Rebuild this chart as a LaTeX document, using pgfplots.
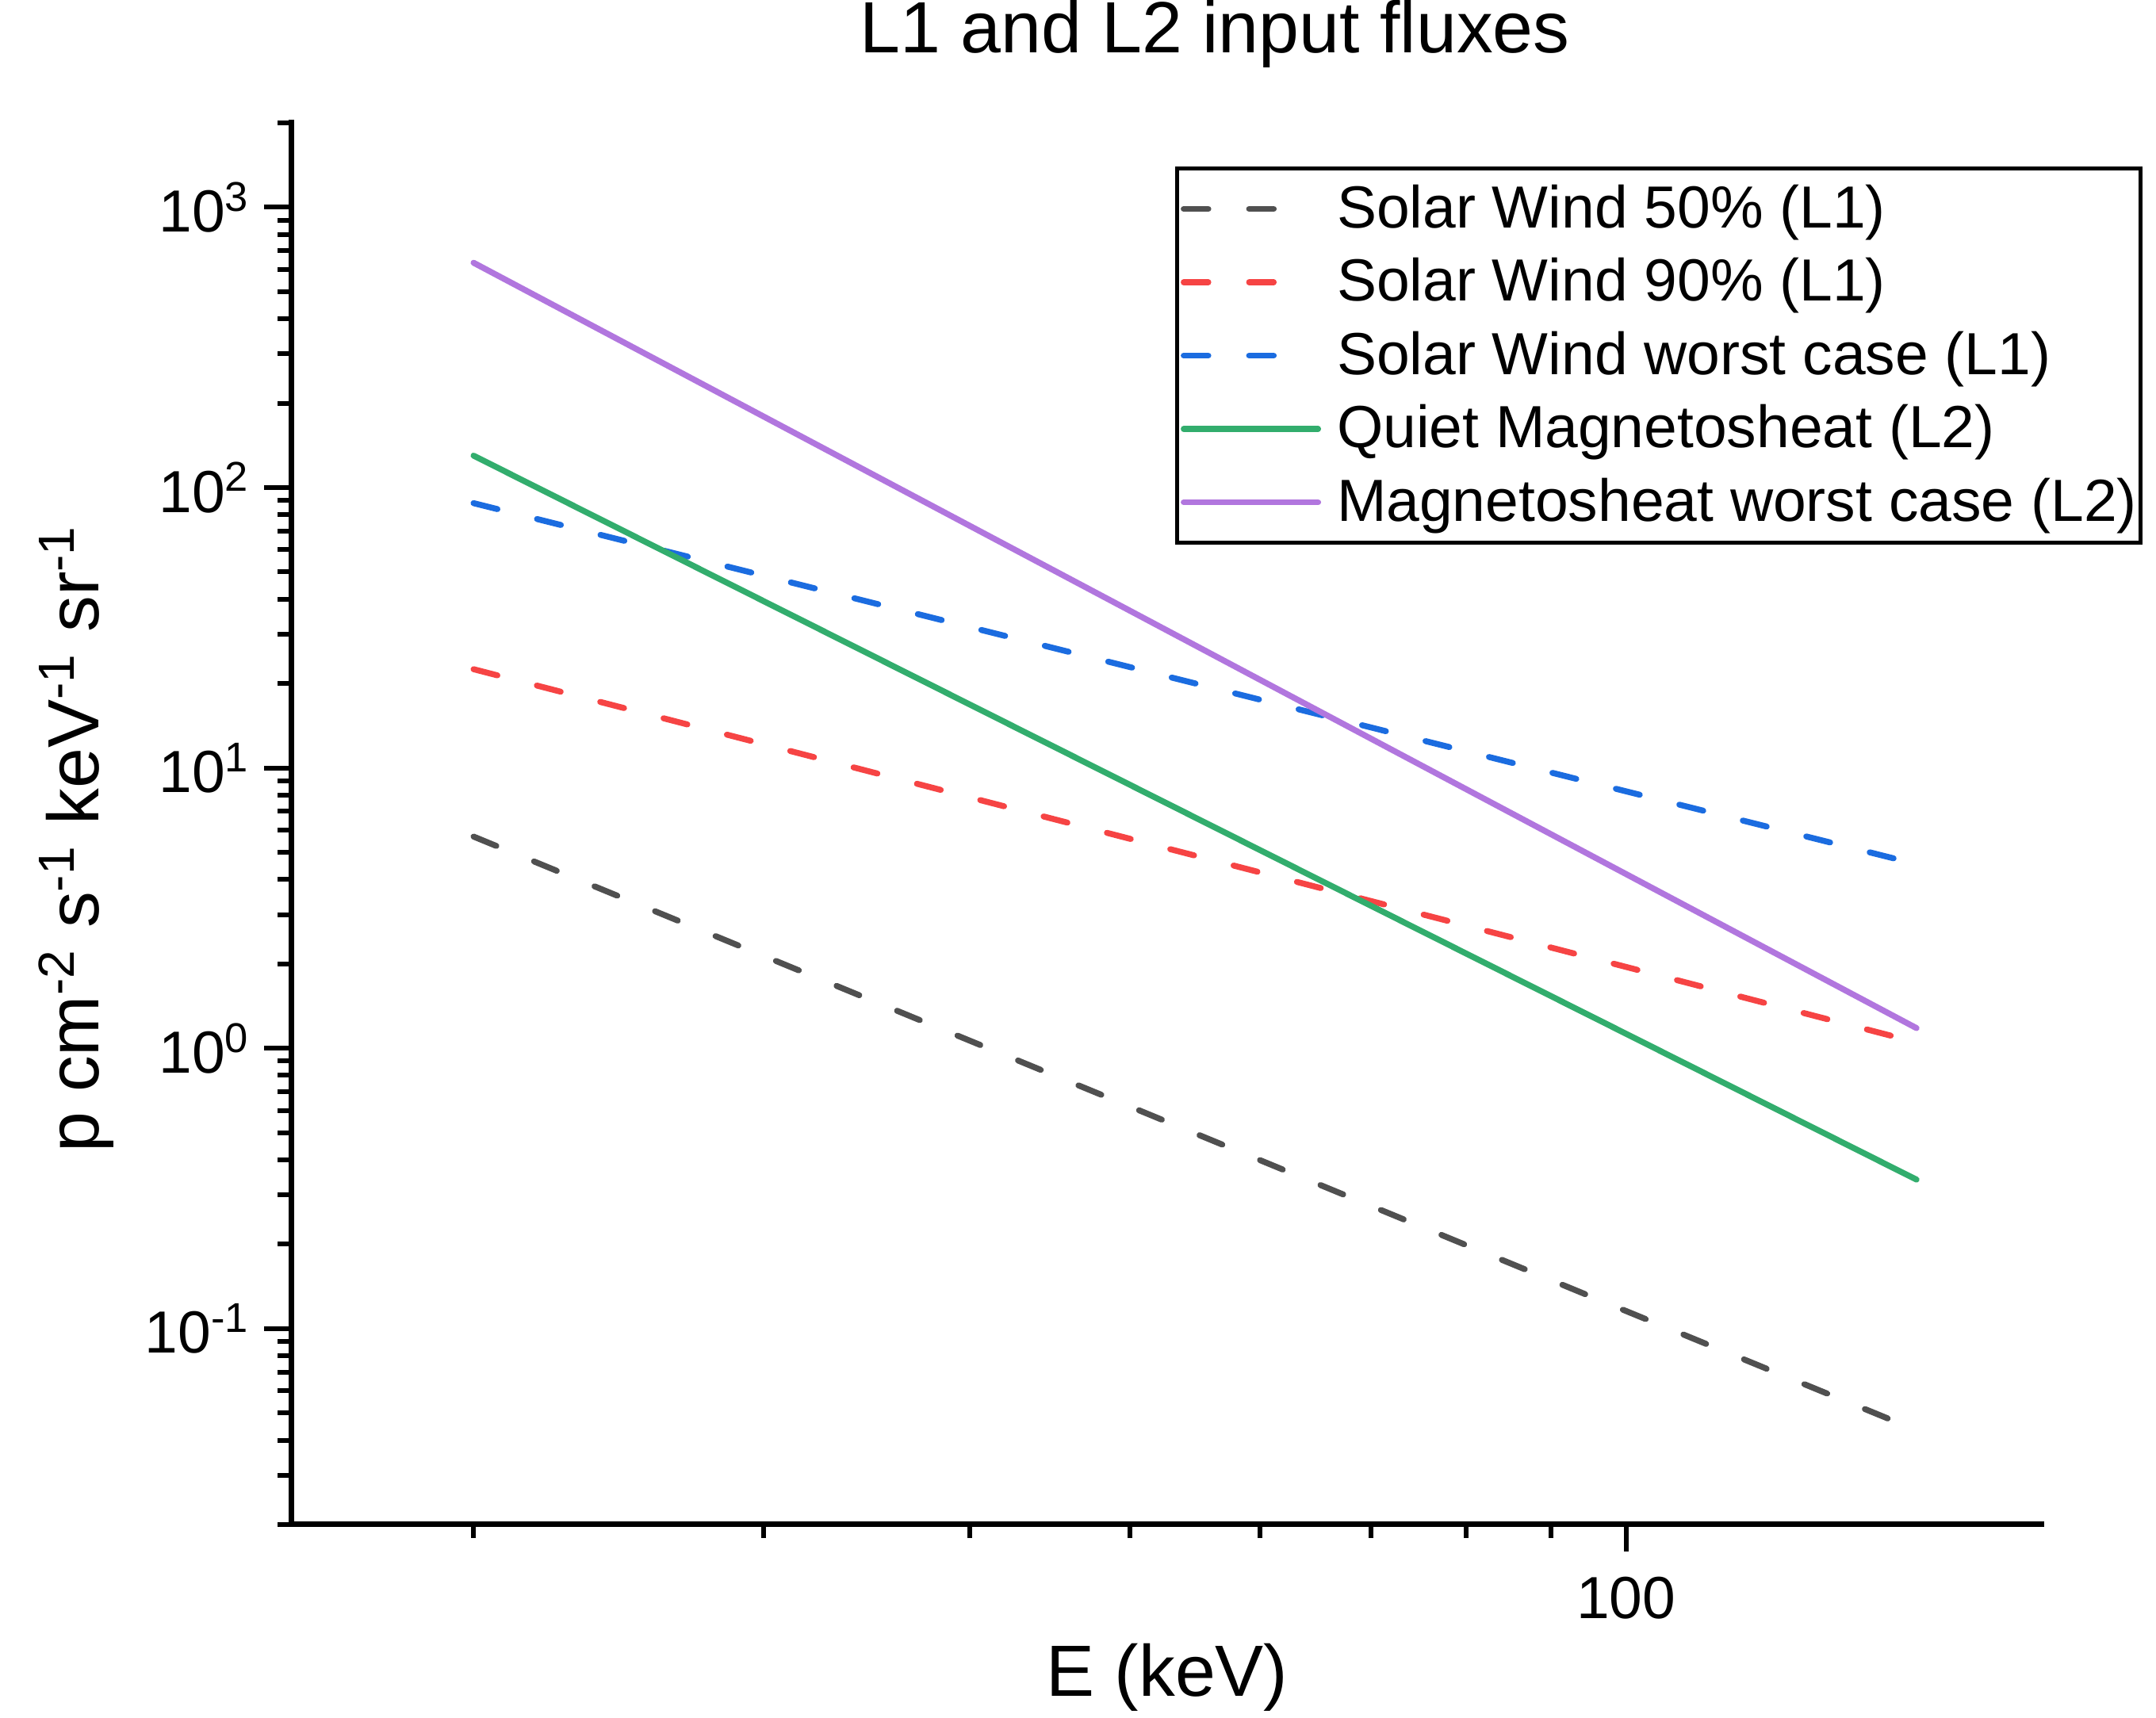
\documentclass[border=0pt]{standalone}
\usepackage{fontspec}
\setmainfont{Liberation Sans}
\usepackage{pgfplots}
\pgfplotsset{compat=1.18}
\definecolor{cgray}{HTML}{505050}
\definecolor{cred}{HTML}{F64444}
\definecolor{cblue}{HTML}{1B6CE0}
\definecolor{cgreen}{HTML}{32AD6D}
\definecolor{cpurple}{HTML}{B176DE}
\pgfplotsset{
  dashleg/.style={legend image code/.code={\draw[##1, line cap=round] (0.7pt,0pt) -- (23.4pt,0pt);}},
  solidleg/.style={legend image code/.code={\draw[##1, line cap=round] (0.7pt,0pt) -- (34.6pt,0pt);}},
}
\begin{document}
\begin{tikzpicture}
\useasboundingbox (-73.4pt,-48.8pt) rectangle (470.4pt,384.6pt);
\begin{axis}[
  at={(0,0)}, anchor=south west,
  scale only axis, width=441.4pt, height=353.6pt,
  xmode=log, ymode=log,
  xmin=15.5, xmax=178.5, ymin=0.02, ymax=2000,
  axis lines*=left,
  axis line style={line width=1.4pt, line cap=rect},
  tick align=outside,
  xtick={100}, xticklabels={100},
  minor xtick={20,30,40,50,60,70,80,90},
  ytick={0.1,1,10,100,1000},
  yticklabels={10\textsuperscript{-1},10\textsuperscript{0},10\textsuperscript{1},10\textsuperscript{2},10\textsuperscript{3}},
  minor ytick={0.02,0.03,0.04,0.05,0.06,0.07,0.08,0.09,0.2,0.3,0.4,0.5,0.6,0.7,0.8,0.9,2,3,4,5,6,7,8,9,20,30,40,50,60,70,80,90,200,300,400,500,600,700,800,900,2000},
  major tick length=6.8pt, minor tick length=3.4pt,
  every tick/.style={line width=1.2pt, black},
  ticklabel style={font=\fontsize{15}{18}\selectfont},
  xticklabel style={yshift=-3pt},
  legend style={at={(0.505,0.969)}, anchor=north west, draw=black, line width=1pt,
    inner xsep=1pt, inner ysep=3pt, row sep=4pt,
    font=\fontsize{15}{18}\selectfont,
    nodes={inner sep=0pt, text height=12pt, text depth=2.5pt},
    /tikz/every odd column/.append style={column sep=4pt}},
  legend cell align=left,
  solidleg,
]
\addplot[cgray, line width=1.5pt, dash pattern=on 6.2pt off 10.3pt, line cap=round, dashleg]
  coordinates {(20,5.69) (50,0.620) (100,0.1155) (150,0.0434)};
\addlegendentry{Solar Wind 50\% (L1)}
\addplot[cred, line width=1.5pt, dash pattern=on 6.2pt off 10.3pt, line cap=round, dashleg]
  coordinates {(20,22.5) (50,5.59) (100,1.95) (150,1.05)};
\addlegendentry{Solar Wind 90\% (L1)}
\addplot[cblue, line width=1.5pt, dash pattern=on 6.2pt off 10.3pt, line cap=round, dashleg]
  coordinates {(20,88) (50,22.9) (100,8.25) (150,4.54)};
\addlegendentry{Solar Wind worst case (L1)}
\addplot[cgreen, line width=1.5pt, line cap=round] coordinates {(20,130) (50,8.71) (100,1.126) (150,0.34)};
\addlegendentry{Quiet Magnetosheat (L2)}
\addplot[cpurple, line width=1.5pt, line cap=round] coordinates {(20,634) (50,36.4) (100,4.18) (150,1.18)};
\addlegendentry{Magnetosheat worst case (L2)}
\end{axis}
\node[anchor=base, font=\fontsize{18.3}{21}\selectfont] at (233pt,371.2pt) {L1 and L2 input fluxes};
\node[anchor=base, font=\fontsize{18.3}{21}\selectfont] at (221pt,-43.4pt) {E (keV)};
\node[anchor=base, rotate=90, font=\fontsize{18.3}{21}\selectfont] at (-48.4pt,173pt) {p cm\textsuperscript{-2} s\textsuperscript{-1} keV\textsuperscript{-1} sr\textsuperscript{-1}};
\end{tikzpicture}
\end{document}
